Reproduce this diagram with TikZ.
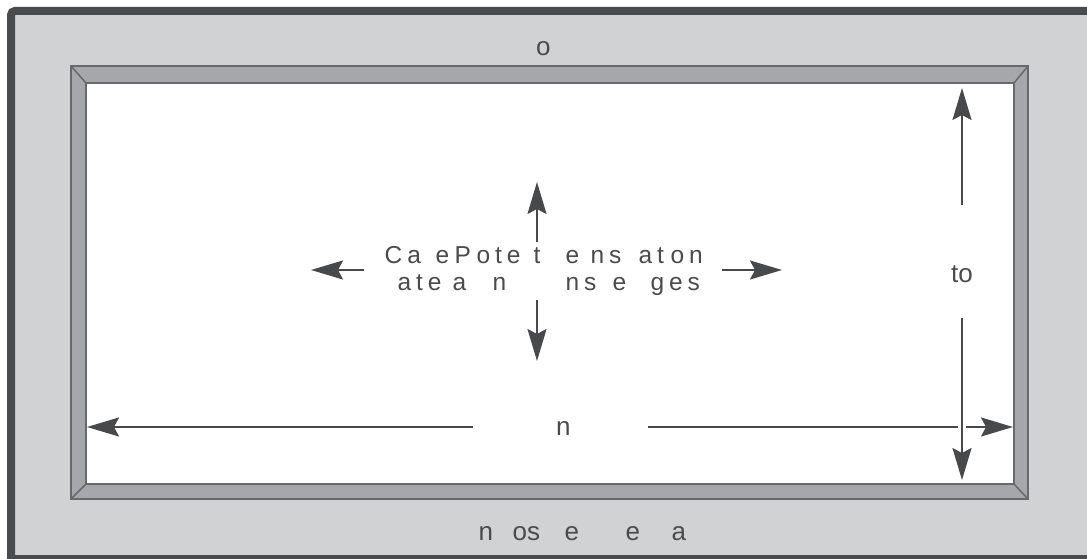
\documentclass[tikz,border=0pt]{standalone}
\usepackage{fontspec}
\setmainfont{Liberation Sans}
\newfontfamily\ctrfont{Liberation Sans}[LetterSpace=20]
\usetikzlibrary{arrows.meta}
\definecolor{bgGray}{HTML}{D1D2D4}
\definecolor{darkFrame}{HTML}{4A4B4D}
\definecolor{bevelFill}{HTML}{A6A7AA}
\definecolor{bevelLine}{HTML}{68696B}
\definecolor{arrowGray}{HTML}{48494B}
\definecolor{textGray}{HTML}{4A4B4D}
\newcommand{\fragat}[3]{\makebox[0pt][l]{\hspace*{#1pt}\raisebox{-#2pt}{#3}}}
\tikzset{
  arr/.style={draw=arrowGray, line width=2.2pt,
    -{Stealth[length=32pt, width=19pt, inset=5pt]}},
  framelabel/.style={inner sep=0pt, anchor=base west, text=textGray,
    font=\fontsize{26}{30}\selectfont},
  ctrlabel/.style={inner sep=0pt, anchor=base west, text=textGray,
    font=\ctrfont\fontsize{24.5}{30}\selectfont},
  bevel/.style={draw=bevelLine, line width=1.5pt},
}
\begin{document}
\begin{tikzpicture}[x=1pt, y=-1pt]
\useasboundingbox (0,0) rectangle (1087,559);
\clip (0,0) rectangle (1087,559);
% outer panel
\fill[bgGray] (11,11) rectangle (1095,565);
\draw[darkFrame, line width=8pt, rounded corners=4pt] (11,565) -- (11,11) -- (1095,11);
\draw[darkFrame, line width=8pt] (11,559) -- (1095,559);
% bevel frame
\fill[bevelFill] (71,66) rectangle (1028,499);
\fill[white] (86,83) rectangle (1014,484);
\draw[bevel] (71,66) rectangle (1028,499);
\draw[bevel] (86,83) rectangle (1014,484);
\draw[bevel] (71,66) -- (86,83);
\draw[bevel] (1028,66) -- (1014,83);
\draw[bevel] (71,499) -- (86,484);
\draw[bevel] (1028,499) -- (1014,484);
% labels
\node[framelabel] (top) at (536,56) {o};
\node[framelabel] (bottom) at (478,540) {\fragat{0}{0}{n}\fragat{34}{0}{os}\fragat{86}{0}{e}\fragat{147}{0}{e}\fragat{193}{0}{a}};
\node[framelabel] (width) at (556,435) {n};
\node[framelabel] (height) at (951,282) {to};
\node[ctrlabel] (ctr) at (384,263) {\fragat{0}{0}{Ca}\fragat{51}{0}{e}\fragat{70}{0}{P}\fragat{92}{0}{ote}\fragat{149}{0}{t}\fragat{181}{0}{e}\fragat{206}{0}{ns}\fragat{254}{0}{at}\fragat{286}{0}{on}\fragat{13}{27}{ate}\fragat{68}{27}{a}\fragat{108}{27}{n}\fragat{181}{27}{ns}\fragat{228}{27}{e}\fragat{266}{27}{ges}};
% coordinates for arrows
\coordinate (upS) at (537,242);
\coordinate (upT) at (537,182);
\coordinate (dnS) at (537,300);
\coordinate (dnT) at (537,361);
\coordinate (lfS) at (364,270);
\coordinate (lfT) at (311,270);
\coordinate (rtS) at (722,270);
\coordinate (rtT) at (782,270);
\coordinate (hlS) at (473,427);
\coordinate (hlT) at (87,427);
\coordinate (hrS) at (648,427);
\coordinate (hrT) at (1013,427);
\coordinate (vuS) at (962,205);
\coordinate (vuT) at (962,88);
\coordinate (vdS) at (962,318);
\coordinate (vdT) at (962,480);
% center arrows
\draw[arr] (upS) -- (upT);
\draw[arr] (dnS) -- (dnT);
\draw[arr] (lfS) -- (lfT);
\draw[arr] (rtS) -- (rtT);
% dimension arrows
\draw[arr] (hlS) -- (hlT);
\draw[arr] (hrS) -- (hrT);
\draw[arr] (vuS) -- (vuT);
\draw[arr, preaction={draw=white, line width=8pt, -}] (vdS) -- (vdT);
\end{tikzpicture}
\end{document}
